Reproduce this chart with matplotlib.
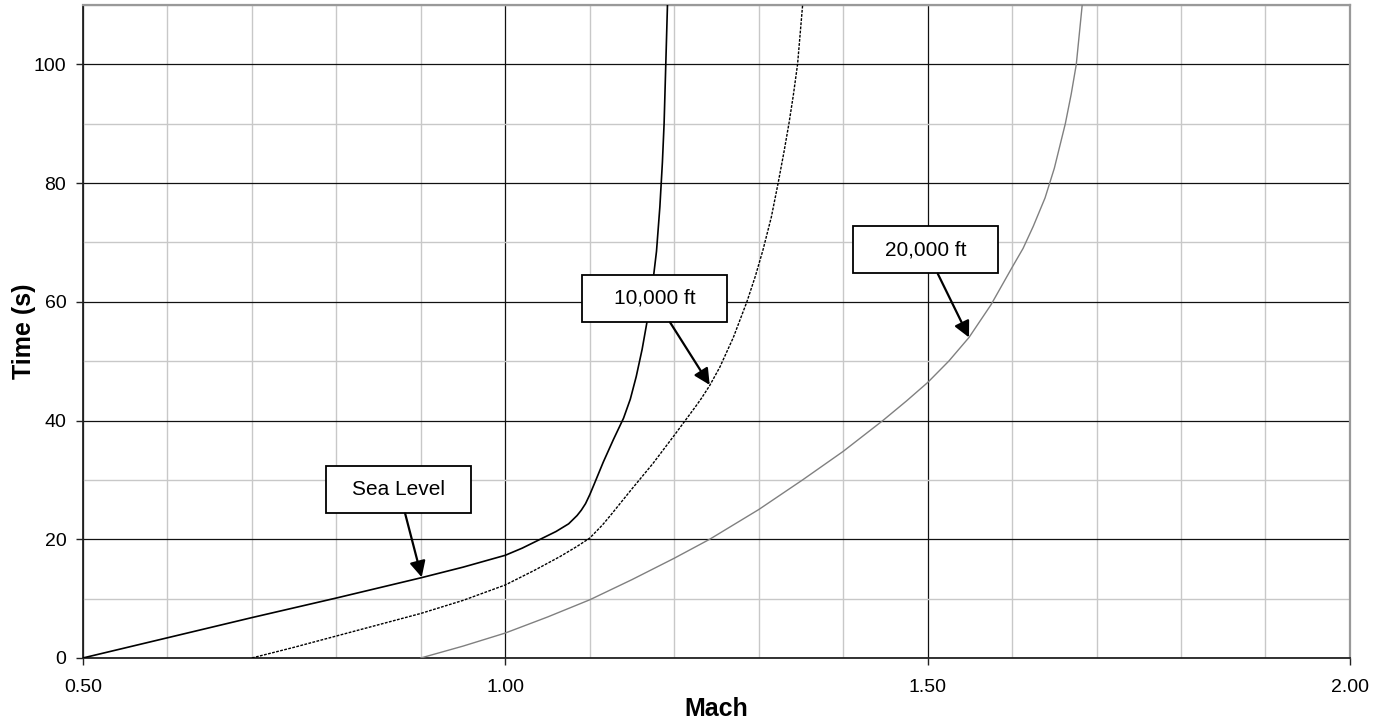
import matplotlib
matplotlib.use("Agg")
import matplotlib.pyplot as plt
from matplotlib.patches import Rectangle
from matplotlib.ticker import MultipleLocator, FormatStrFormatter

# ---- data ----
mach_sl = [0.50, 0.60, 0.70, 0.80, 0.90, 0.95, 1.00, 1.02, 1.04, 1.06, 1.075,
           1.085, 1.09, 1.095, 1.10, 1.105, 1.116, 1.128, 1.140, 1.148, 1.155,
           1.162, 1.168, 1.174, 1.179, 1.183, 1.186, 1.188, 1.190, 1.192]
time_sl = [0.0, 3.4, 6.8, 10.1, 13.5, 15.3, 17.3, 18.5, 19.9, 21.3, 22.6,
           24.0, 24.9, 26.0, 27.5, 29.2, 33.0, 36.8, 40.4, 43.6, 47.4,
           52.0, 56.8, 62.5, 68.5, 76.0, 83.5, 90.0, 100.0, 110.0]

mach_10k = [0.70, 0.75, 0.80, 0.85, 0.90, 0.95, 1.00, 1.035, 1.065, 1.085, 1.10,
            1.115, 1.125, 1.15, 1.175, 1.20, 1.213, 1.225, 1.232, 1.242, 1.254,
            1.27, 1.286, 1.296, 1.305, 1.315, 1.323, 1.330, 1.336, 1.341, 1.346,
            1.352]
time_10k = [0.0, 1.8, 3.7, 5.6, 7.5, 9.7, 12.3, 14.8, 17.1, 18.8, 20.2,
            22.4, 24.1, 28.5, 32.8, 37.5, 40.0, 42.3, 43.7, 45.9, 49.0,
            54.0, 60.0, 64.3, 68.7, 74.3, 80.0, 85.3, 90.2, 94.8, 100.0,
            110.0]

mach_20k = [0.90, 0.95, 1.00, 1.05, 1.10, 1.15, 1.20, 1.242, 1.30, 1.352, 1.40,
            1.447, 1.475, 1.50, 1.525, 1.549, 1.575, 1.60, 1.613, 1.625, 1.639,
            1.650, 1.663, 1.670, 1.676, 1.683]
time_20k = [0.0, 2.0, 4.2, 6.9, 9.8, 13.2, 16.8, 20.0, 25.0, 30.0, 34.8,
            40.0, 43.3, 46.4, 50.0, 54.0, 59.5, 65.8, 69.0, 72.7, 77.5,
            82.5, 90.0, 95.0, 100.0, 110.0]

labels = ["Sea Level", "10,000 ft", "20,000 ft"]
# label box centres and arrow tips (data coordinates)
label_xy = [(0.874, 28.4), (1.177, 60.6), (1.498, 68.8)]
arrow_tip = [(0.901, 13.6), (1.242, 46.0), (1.549, 54.0)]

x_ticks = [0.50, 1.00, 1.50, 2.00]
y_ticks = [0, 20, 40, 60, 80, 100]

plt.rcParams['font.family'] = ['Liberation Sans', 'DejaVu Sans']

fig = plt.figure(figsize=(13.85, 7.28), dpi=100)
ax = fig.add_axes([0.0599, 0.0962, 0.9148, 0.8969])

ax.set_xlim(0.5, 2.0)
ax.set_ylim(0, 110)

ax.set_xticks(x_ticks)
ax.set_yticks(y_ticks)
ax.xaxis.set_major_formatter(FormatStrFormatter('%.2f'))
ax.xaxis.set_minor_locator(MultipleLocator(0.1))
ax.yaxis.set_minor_locator(MultipleLocator(10))

ax.grid(which='minor', color='#c8c8c8', linewidth=1.0)
ax.grid(which='major', color='#111111', linewidth=0.9)
ax.set_axisbelow(True)

ax.tick_params(which='minor', length=0)
ax.tick_params(axis='x', which='major', length=5, width=1, pad=10, labelsize=14, color='#222222')
ax.tick_params(axis='y', which='major', length=5, width=1, pad=7, labelsize=14, color='#222222')

for side in ['left', 'bottom']:
    ax.spines[side].set_color('#222222')
    ax.spines[side].set_linewidth(1.3)
for side in ['top', 'right']:
    ax.spines[side].set_color('#999999')
    ax.spines[side].set_linewidth(1.6)

ax.plot(mach_sl, time_sl, color='black', linewidth=1.2, zorder=3)
ax.plot(mach_10k, time_10k, color='black', linewidth=1.0, linestyle=(0, (2, 1)), zorder=3)
ax.plot(mach_20k, time_20k, color='#808080', linewidth=1.0, zorder=3)

ax.set_xlabel('Mach', fontsize=18, fontweight='bold', labelpad=1)
ax.set_ylabel('Time (s)', fontsize=18, fontweight='bold', labelpad=-1.5)

# label boxes (fixed pixel size converted to data units)
box_w = 145 / (ax.get_position().width * fig.get_figwidth() * fig.dpi) * 1.5
box_h = 47 / (ax.get_position().height * fig.get_figheight() * fig.dpi) * 110
for txt, (cx, cy), tip in zip(labels, label_xy, arrow_tip):
    rect = Rectangle((cx - box_w / 2, cy - box_h / 2), box_w, box_h,
                     facecolor='white', edgecolor='black', linewidth=1.3, zorder=5)
    ax.add_patch(rect)
    ax.text(cx, cy, txt, ha='center', va='center', fontsize=15, zorder=6)
    ax.annotate('', xy=tip, xytext=(cx, cy),
                arrowprops=dict(arrowstyle='-|>', color='black', linewidth=1.6,
                                mutation_scale=24, patchA=rect, shrinkA=0, shrinkB=0),
                zorder=6)

fig.savefig('out.png', dpi=100)
